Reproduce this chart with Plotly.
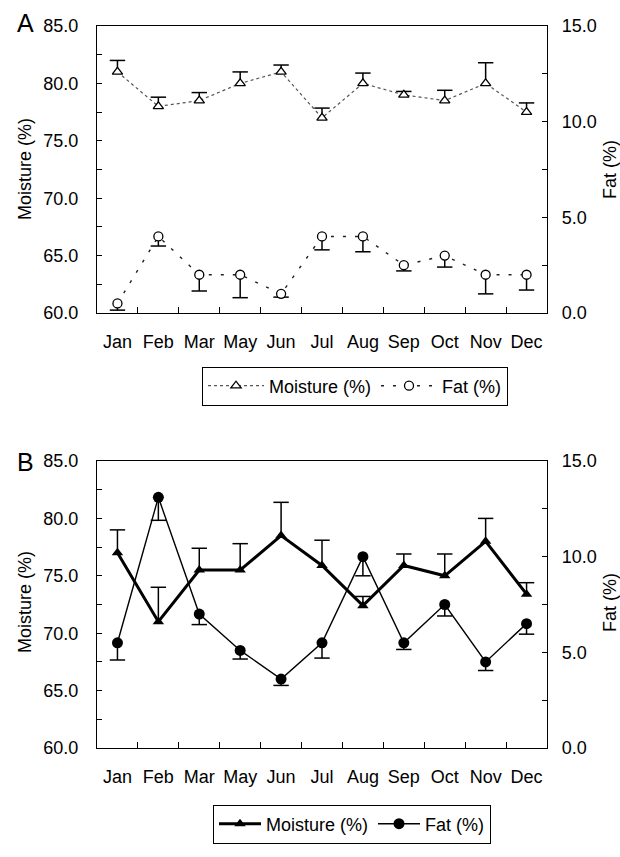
import plotly.graph_objects as go

months = ["Jan", "Feb", "Mar", "May", "Jun", "Jul", "Aug", "Sep", "Oct", "Nov", "Dec"]

# Panel A
moist_a = [81.0, 78.0, 78.5, 80.0, 81.0, 77.0, 80.0, 79.0, 78.5, 80.0, 77.5]
moist_a_err = [1.0, 0.8, 0.7, 1.0, 0.6, 0.85, 0.9, 0.3, 0.9, 1.8, 0.8]
fat_a = [0.5, 4.0, 2.0, 2.0, 1.0, 4.0, 4.0, 2.5, 3.0, 2.0, 2.0]
fat_a_err = [0.35, 0.5, 0.85, 1.2, 0.17, 0.7, 0.8, 0.3, 0.6, 1.0, 0.8]

# Panel B
moist_b = [77.0, 71.0, 75.5, 75.5, 78.5, 75.9, 72.4, 75.9, 75.0, 78.0, 73.4]
moist_b_err = [2.0, 3.0, 1.9, 2.3, 2.9, 2.2, 0.8, 1.0, 1.9, 2.0, 1.0]
fat_b = [5.5, 13.1, 7.0, 5.1, 3.6, 5.5, 10.0, 5.5, 7.5, 4.5, 6.5]
fat_b_err = [0.9, 1.2, 0.55, 0.45, 0.33, 0.8, 1.0, 0.35, 0.6, 0.45, 0.55]

FONT = "Liberation Sans, Arial, sans-serif"
W, H = 620, 857
zeros = [0] * len(months)


def err_up(e):
    return dict(type="data", symmetric=False, array=e, arrayminus=zeros,
                width=0, thickness=1.5, color="black")


def err_down(e):
    return dict(type="data", symmetric=False, array=zeros, arrayminus=e,
                width=0, thickness=1.5, color="black")


def caps(yvals, xa, ya):
    return go.Scatter(x=months, y=yvals, xaxis=xa, yaxis=ya, mode="markers",
                      marker=dict(symbol="line-ew", size=11, color="black",
                                  line=dict(width=1.5, color="black")),
                      showlegend=False, hoverinfo="skip")


fig = go.Figure()

# ---------- Panel A ----------
fig.add_trace(caps([m + e for m, e in zip(moist_a, moist_a_err)], "x", "y"))
fig.add_trace(caps([f - e for f, e in zip(fat_a, fat_a_err)], "x", "y2"))
fig.add_trace(go.Scatter(
    x=months, y=moist_a, name="Moisture (%)", xaxis="x", yaxis="y",
    mode="lines+markers", legend="legend",
    line=dict(color="#555", width=1.2, dash="dot"),
    marker=dict(symbol="triangle-up", size=9, color="white",
                line=dict(color="black", width=1.3)),
    error_y=err_up(moist_a_err)))
fig.add_trace(go.Scatter(
    x=months, y=fat_a, name="Fat (%)", xaxis="x", yaxis="y2",
    mode="lines+markers", legend="legend",
    line=dict(color="#222", width=1.4, dash="3px,9px"),
    marker=dict(symbol="circle", size=9, color="white",
                line=dict(color="black", width=1.3)),
    error_y=err_down(fat_a_err)))

# ---------- Panel B ----------
fig.add_trace(caps([m + e for m, e in zip(moist_b, moist_b_err)], "x2", "y3"))
fig.add_trace(caps([f - e for f, e in zip(fat_b, fat_b_err)], "x2", "y4"))
fig.add_trace(go.Scatter(
    x=months, y=moist_b, name="Moisture (%)", xaxis="x2", yaxis="y3",
    mode="lines+markers", legend="legend2",
    line=dict(color="black", width=3),
    marker=dict(symbol="triangle-up", size=10, color="black"),
    error_y=err_up(moist_b_err)))
fig.add_trace(go.Scatter(
    x=months, y=fat_b, name="Fat (%)", xaxis="x2", yaxis="y4",
    mode="lines+markers", legend="legend2",
    line=dict(color="black", width=1.4),
    marker=dict(symbol="circle", size=11, color="black"),
    error_y=err_down(fat_b_err)))

# ---------- Layout ----------
xdom = [97 / W, 547 / W]
ydomA = [1 - 313 / H, 1 - 26 / H]
ydomB = [1 - 748 / H, 1 - 461 / H]

tickfont = dict(family=FONT, size=18, color="black")


def xax(anchor):
    return dict(domain=xdom, anchor=anchor, type="category",
                categoryorder="array", categoryarray=months,
                range=[-0.5, len(months) - 0.5], automargin=False,
                showline=True, linecolor="black", linewidth=1.2, mirror=True,
                ticks="inside", tickson="boundaries", ticklen=6,
                tickcolor="black", tickwidth=1.2, tickangle=0,
                tickfont=tickfont, ticklabelstandoff=12,
                showgrid=False, zeroline=False, fixedrange=True)


def yleft(dom, anchor):
    return dict(domain=dom, anchor=anchor, range=[60, 85], dtick=5, tick0=60,
                tickformat=".1f", showline=True, linecolor="black",
                linewidth=1.2, ticks="inside", ticklen=5, tickcolor="black",
                tickwidth=1.2, automargin=False,
                minor=dict(dtick=2.5, ticks="inside", ticklen=5,
                           tickcolor="black", tickwidth=1.2),
                tickfont=tickfont, ticklabelstandoff=14,
                showgrid=False, zeroline=False, fixedrange=True)


def yright(dom, anchor, over):
    return dict(domain=dom, anchor=anchor, overlaying=over, side="right",
                range=[0, 15], dtick=5, tick0=0, tickformat=".1f",
                showline=True, linecolor="black", linewidth=1.2,
                ticks="inside", ticklen=5, tickcolor="black", tickwidth=1.2,
                automargin=False,
                minor=dict(dtick=2.5, ticks="inside", ticklen=5,
                           tickcolor="black", tickwidth=1.2),
                tickfont=tickfont, ticklabelstandoff=10,
                showgrid=False, zeroline=False, fixedrange=True)


legend_common = dict(orientation="h", xanchor="center", yanchor="middle",
                     bordercolor="black", borderwidth=1, bgcolor="white",
                     font=dict(family=FONT, size=18, color="black"),
                     tracegroupgap=0)


def label(text, x, y, size=18, angle=0):
    return dict(text=text, x=x / W, y=1 - y / H, xref="paper", yref="paper",
                xanchor="center", yanchor="middle", textangle=angle,
                showarrow=False, font=dict(family=FONT, size=size, color="black"))


fig.update_layout(
    width=W, height=H,
    margin=dict(l=0, r=0, t=0, b=0, autoexpand=False),
    paper_bgcolor="white", plot_bgcolor="white",
    font=dict(family=FONT, size=18, color="black"),
    xaxis=xax("y"),
    yaxis=yleft(ydomA, "x"),
    yaxis2=yright(ydomA, "x", "y"),
    xaxis2=xax("y3"),
    yaxis3=yleft(ydomB, "x2"),
    yaxis4=yright(ydomB, "x2", "y3"),
    legend=dict(x=355 / W, y=1 - 386 / H, itemwidth=56, **legend_common),
    legend2=dict(x=352 / W, y=1 - 824 / H, itemwidth=42, **legend_common),
    annotations=[
        label("A", 25, 23, size=25),
        label("B", 25, 462, size=25),
        label("Moisture (%)", 25, 169, angle=-90),
        label("Fat (%)", 610, 170, angle=-90),
        label("Moisture (%)", 25, 602, angle=-90),
        label("Fat (%)", 610, 603, angle=-90),
    ],
    showlegend=True,
)

fig.write_html("out.html",
               config={"displayModeBar": False},
               post_script="document.body.style.margin='0';"
                           "document.body.style.overflow='hidden';")
